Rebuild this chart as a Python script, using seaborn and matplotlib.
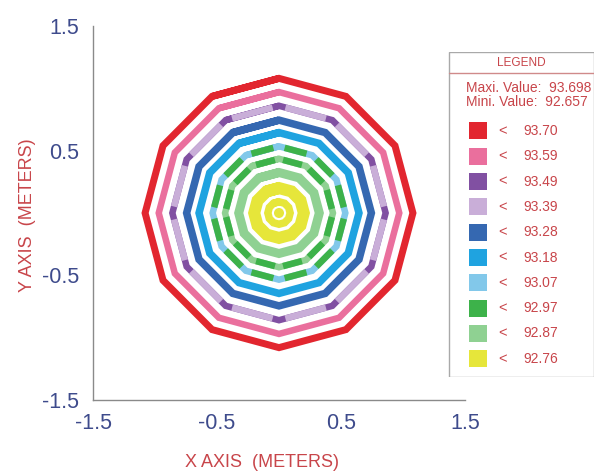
import numpy as np
import pandas as pd
import matplotlib
matplotlib.use("Agg")
import matplotlib.pyplot as plt
from matplotlib.patches import Rectangle
import seaborn as sns

# ---------------- data ----------------
levels = [93.70, 93.59, 93.49, 93.39, 93.28, 93.18, 93.07, 92.97, 92.87, 92.76]
level_colors = ['#e2262f', '#ea6f9d', '#8150a2', '#c9aed8', '#3568b1',
                '#1fa3e0', '#82c8ea', '#3db24a', '#8fd192', '#e6e63a']
max_value = 93.698
min_value = 92.657

ring_radii = [1.08, 0.97, 0.86, 0.745, 0.645, 0.535, 0.435, 0.325, 0.20, 0.09]
ring_edge_level = [0, 1, 3, 4, 5, 7, 7, 8, 9, 9]
ring_vertex_level = [0, 1, 2, 4, 5, 6, 8, 8, 9, 9]
ring_width_px = [7, 6.5, 6.5, 7.5, 7.5, 6.5, 6.5, 9, 12, 7.5]
ring_vertex_frac = [0, 0, 0.12, 0, 0, 0.17, 0.15, 0, 0, 0]
center_level = 9

tick_vals = [-1.5, -0.5, 0.5, 1.5]
n_sides = 12

# ---------------- style ----------------
sns.set_style("white")
plt.rcParams['font.family'] = ['Liberation Sans', 'DejaVu Sans']

PX = 72 / 100.0  # points per pixel
tick_color = '#3e4b8c'
red_text = '#c8454a'
spine_color = '#8a8a8a'

fig = plt.figure(figsize=(5.96, 4.73), dpi=100)
ax = fig.add_axes([93 / 596, 1 - 400 / 473, 372 / 596, 374 / 473])

ang = np.deg2rad(90 + np.arange(n_sides + 2) * 360.0 / n_sides)

for r, el, vl, w, f in zip(ring_radii, ring_edge_level, ring_vertex_level,
                           ring_width_px, ring_vertex_frac):
    xs = r * np.cos(ang)
    ys = r * np.sin(ang)
    base = pd.DataFrame({'x': xs, 'y': ys})
    sns.lineplot(data=base, x='x', y='y', sort=False, estimator=None,
                 color=level_colors[vl], linewidth=w * PX, ax=ax,
                 solid_joinstyle='miter', solid_capstyle='butt')
    if f > 0:
        rows = []
        for k in range(n_sides):
            x0, y0, x1, y1 = xs[k], ys[k], xs[k + 1], ys[k + 1]
            for t in (f, 1 - f):
                rows.append({'seg': k, 'x': x0 + t * (x1 - x0), 'y': y0 + t * (y1 - y0)})
        seg = pd.DataFrame(rows)
        sns.lineplot(data=seg, x='x', y='y', units='seg', sort=False,
                     estimator=None, color=level_colors[el],
                     linewidth=w * PX, ax=ax, solid_capstyle='butt')

sns.scatterplot(x=[0.0], y=[0.0], color=level_colors[center_level], s=(10 * PX) ** 2,
                marker='o', edgecolor='none', ax=ax, legend=False)

ax.set_xlim(-1.5, 1.5)
ax.set_ylim(-1.5, 1.5)
ax.set_xlabel('')
ax.set_ylabel('')
for s in ['top', 'right']:
    ax.spines[s].set_visible(False)
for s in ['left', 'bottom']:
    ax.spines[s].set_color(spine_color)
    ax.spines[s].set_linewidth(1.0)

minor = np.round(np.arange(-1.5, 1.5001, 0.2), 2)
labels = [(f"{v:.1f}" if np.any(np.isclose(v, tick_vals)) else '') for v in minor]
ax.set_xticks(minor)
ax.set_xticklabels(labels)
ax.set_yticks(minor)
ax.set_yticklabels(labels)
ax.tick_params(axis='x', direction='in', length=4, width=1, color=spine_color,
               labelsize=15.5, labelcolor=tick_color, pad=9)
ax.tick_params(axis='y', direction='out', length=5, width=1, color=spine_color,
               labelsize=15.5, labelcolor=tick_color, pad=5)
ax.set_facecolor('none')

fig.text(262 / 596, 1 - 462 / 473, 'X AXIS  (METERS)', color=red_text,
         fontsize=13, ha='center', va='center')
fig.text(28 / 596, 1 - 215 / 473, 'Y AXIS  (METERS)', color=red_text,
         fontsize=13, ha='center', va='center', rotation=90)

# ---------------- legend panel ----------------
lax = fig.add_axes([448 / 596, 1 - 377 / 473, 146 / 596, 325 / 473])
lax.set_xlim(0, 146)
lax.set_ylim(325, 0)
lax.axis('off')
lax.add_patch(Rectangle((0.5, 0.5), 145, 324, fill=False, edgecolor='#a9a9a9', lw=1))
lax.plot([0.5, 145.5], [21, 21], color='#d08a8a', lw=1)
lax.text(73, 11, 'LEGEND', color=red_text, fontsize=8.5, ha='center', va='center')
lax.text(18, 36, f'Maxi. Value:  {max_value:.3f}', color=red_text, fontsize=10,
         ha='left', va='center')
lax.text(18, 50, f'Mini. Value:  {min_value:.3f}', color=red_text, fontsize=10,
         ha='left', va='center')
for i, (lv, c) in enumerate(zip(levels, level_colors)):
    yc = 79 + i * 25.3
    lax.add_patch(Rectangle((21, yc - 8.5), 18, 17, facecolor=c, edgecolor='none'))
    lax.text(55, yc, '<', color=red_text, fontsize=10.5, ha='center', va='center')
    lax.text(75, yc, f'{lv:.2f}', color=red_text, fontsize=10, ha='left', va='center')

fig.savefig('out.png', dpi=100)
